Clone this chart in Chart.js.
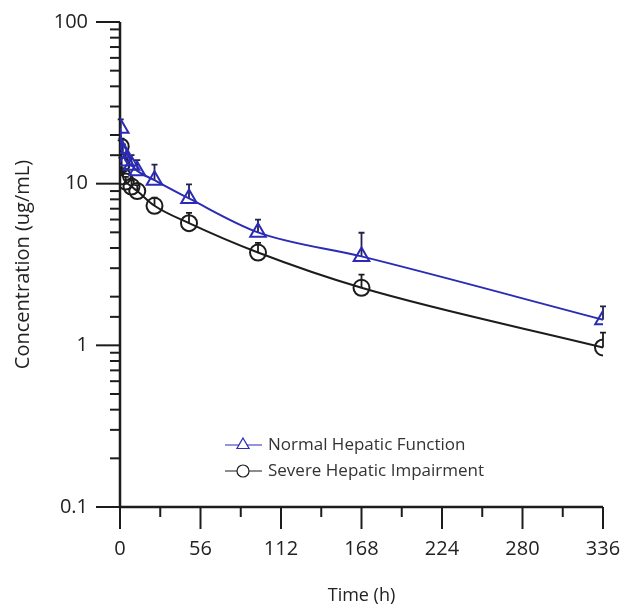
<!DOCTYPE html>
<html>
<head>
<meta charset="utf-8">
<script src="https://cdn.jsdelivr.net/npm/chart.js@4.4.0/dist/chart.umd.min.js"></script>
<style>
  body { margin: 0; background: #fff; }
  #wrap { width: 625px; height: 610px; }
</style>
</head>
<body>
<div id="wrap"><canvas id="pkChart" width="625" height="610"></canvas></div>
<script>
// sampling times (h)
const times = [0.5, 1, 2, 4, 8, 12, 24, 48, 96, 168, 336];
// mean concentrations (ug/mL)
const normalMean = [22, 16.5, 15.5, 13.8, 13, 12, 10.5, 8.1, 5.0, 3.55, 1.44];
const severeMean = [17.0, 13.1, 11.1, 10.3, 9.6, 9.0, 7.3, 5.7, 3.75, 2.27, 0.97];
// upper end of error bars (mean + SD)
const normalUpper = [25, 19, 17.5, 15.5, 15, 14, 13.1, 9.9, 6.0, 4.97, 1.74];
const severeUpper = [18.5, 14.5, 12, 11, 10.5, 9.8, 8.2, 6.6, 4.3, 2.74, 1.2];
const xTicks = [0, 56, 112, 168, 224, 280, 336];
const yTickLabels = [0.1, 1, 10, 100];
const seriesNames = ['Normal Hepatic Function', 'Severe Hepatic Impairment'];

const blue = '#2b2bb5';
const dark = '#1c1c1c';
const fontFam = '"Open Sans", "Noto Sans", sans-serif';

const toPoints = (vals) => times.map((t, i) => ({ x: t, y: vals[i] }));

const isDecade = (v) => Math.abs(Math.log10(v) - Math.round(Math.log10(v))) < 1e-6;

// axis lines and tick marks (major long, minor short)
const axisPlugin = {
    id: 'axisPlugin',
    beforeDatasetsDraw(chart) {
        const { ctx, chartArea, scales } = chart;
        const xs = scales.x, ys = scales.y;
        ctx.save();
        ctx.strokeStyle = dark;
        ctx.lineWidth = 2.5;
        ctx.beginPath();
        ctx.moveTo(chartArea.left, chartArea.top);
        ctx.lineTo(chartArea.left, chartArea.bottom);
        ctx.lineTo(chartArea.right, chartArea.bottom);
        ctx.stroke();

        ctx.lineWidth = 2;
        ys.ticks.forEach(t => {
            const py = ys.getPixelForValue(t.value);
            const len = isDecade(t.value) ? 24 : 10;
            ctx.beginPath();
            ctx.moveTo(chartArea.left - len, py);
            ctx.lineTo(chartArea.left, py);
            ctx.stroke();
        });
        for (let v = 0; v <= 336; v += 28) {
            const px = xs.getPixelForValue(v);
            const len = v % 56 === 0 ? 22 : 10;
            ctx.beginPath();
            ctx.moveTo(px, chartArea.bottom);
            ctx.lineTo(px, chartArea.bottom + len);
            ctx.stroke();
        }
        ctx.restore();
    }
};

// upward error bars with caps
const errorBarPlugin = {
    id: 'errorBars',
    beforeDatasetsDraw(chart) {
        const { ctx, scales } = chart;
        const uppers = [normalUpper, severeUpper];
        ctx.save();
        ctx.lineWidth = 1.8;
        chart.data.datasets.forEach((ds, di) => {
            ctx.strokeStyle = di === 0 ? '#22224a' : dark;
            ds.data.forEach((p, i) => {
                const px = scales.x.getPixelForValue(p.x);
                const py = scales.y.getPixelForValue(p.y);
                const top = scales.y.getPixelForValue(uppers[di][i]);
                ctx.beginPath();
                ctx.moveTo(px, py);
                ctx.lineTo(px, top);
                ctx.moveTo(px - 3, top);
                ctx.lineTo(px + 3, top);
                ctx.stroke();
            });
        });
        ctx.restore();
    }
};

// legend inside the plot area
const legendPlugin = {
    id: 'insideLegend',
    afterDraw(chart) {
        const { ctx } = chart;
        const rows = [445, 471];
        ctx.save();
        chart.data.datasets.forEach((ds, i) => {
            const y = rows[i];
            ctx.strokeStyle = ds.borderColor;
            ctx.lineWidth = 1.2;
            ctx.beginPath();
            ctx.moveTo(225, y);
            ctx.lineTo(262, y);
            ctx.stroke();
            ctx.fillStyle = '#fff';
            Chart.helpers.drawPoint(ctx, {
                pointStyle: ds.pointStyle,
                radius: i === 0 ? 7 : 6,
                borderWidth: 1.3
            }, 243, y);
            ctx.fillStyle = '#333';
            ctx.font = '17px ' + fontFam;
            ctx.textBaseline = 'middle';
            ctx.textAlign = 'left';
            ctx.fillText(seriesNames[i], 268, y);
        });
        ctx.restore();
    }
};

new Chart(document.getElementById('pkChart'), {
    type: 'line',
    data: {
        datasets: [{
            label: seriesNames[0],
            data: toPoints(normalMean),
            borderColor: blue,
            borderWidth: 2,
            pointStyle: 'triangle',
            pointRadius: 9,
            pointBorderWidth: 2,
            pointBorderColor: blue,
            pointBackgroundColor: 'rgba(0,0,0,0)',
            cubicInterpolationMode: 'monotone',
            fill: false
        }, {
            label: seriesNames[1],
            data: toPoints(severeMean),
            borderColor: dark,
            borderWidth: 2,
            pointStyle: 'circle',
            pointRadius: 8,
            pointBorderWidth: 2,
            pointBorderColor: dark,
            pointBackgroundColor: 'rgba(0,0,0,0)',
            cubicInterpolationMode: 'monotone',
            fill: false
        }]
    },
    options: {
        responsive: false,
        animation: false,
        layout: { padding: { top: 22, right: 22, left: 0, bottom: 0 } },
        plugins: {
            legend: { display: false },
            tooltip: { enabled: false }
        },
        scales: {
            x: {
                type: 'linear',
                min: 0,
                max: 336,
                afterBuildTicks: (scale) => {
                    scale.ticks = xTicks.map(v => ({ value: v }));
                },
                ticks: {
                    padding: 8,
                    color: '#222',
                    font: { family: fontFam, size: 20 },
                    maxRotation: 0
                },
                grid: { display: false, drawTicks: true, tickLength: 22 },
                border: { display: false },
                title: {
                    display: true,
                    text: 'Time (h)',
                    color: '#222',
                    font: { family: fontFam, size: 18 },
                    padding: { top: 4, bottom: 3 }
                },
                afterFit: (scale) => {
                    scale.height = 103;
                    scale.paddingLeft = 0;
                    scale.paddingRight = 0;
                }
            },
            y: {
                type: 'logarithmic',
                min: 0.1,
                max: 100,
                ticks: {
                    autoSkip: false,
                    padding: 8,
                    color: '#222',
                    font: { family: fontFam, size: 20 },
                    callback: (v) => yTickLabels.some(t => Math.abs(t - v) < 1e-9) ? String(v) : ''
                },
                grid: { display: false, drawTicks: true, tickLength: 24 },
                border: { display: false },
                title: {
                    display: true,
                    text: 'Concentration (ug/mL)',
                    color: '#222',
                    font: { family: fontFam, size: 20 },
                    padding: { top: 11, bottom: 4 }
                },
                afterFit: (scale) => { scale.width = 120; }
            }
        }
    },
    plugins: [axisPlugin, errorBarPlugin, legendPlugin]
});
</script>
</body>
</html>
